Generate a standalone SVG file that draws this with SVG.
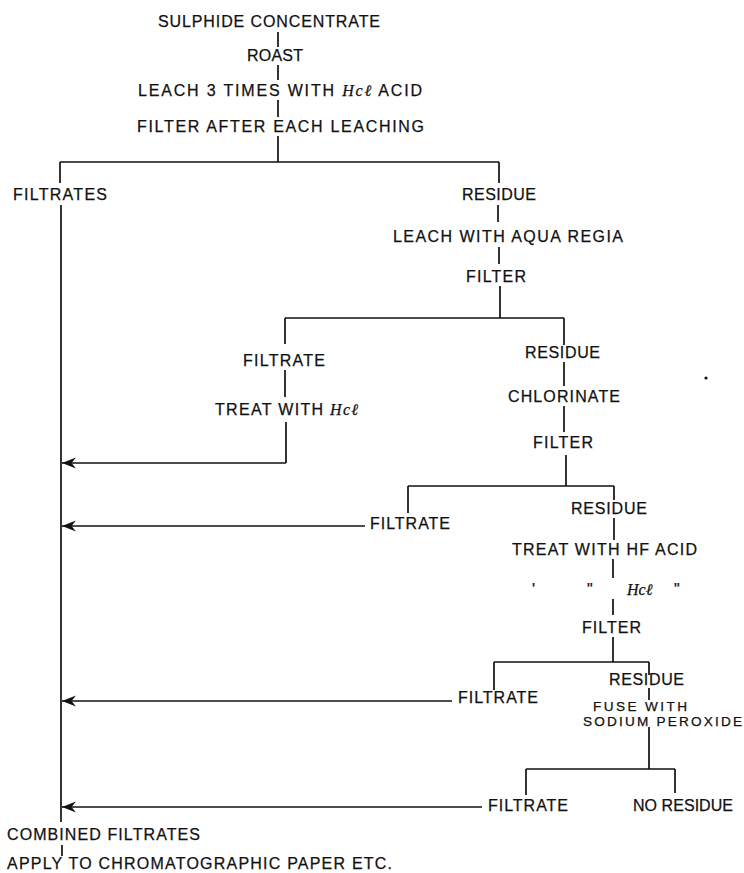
<svg xmlns="http://www.w3.org/2000/svg" width="744" height="873" viewBox="0 0 744 873">
<style>
text{font-family:"Liberation Sans","DejaVu Sans",sans-serif;font-size:16px;fill:#111;stroke:#111;stroke-width:0.25;}
.sm{font-size:13.6px;}
.hcl{font-family:"Liberation Serif","DejaVu Serif",serif;font-style:italic;}
.ln{stroke:#111;stroke-width:1.7;fill:none;}
</style>
<defs>
<marker id="arr" markerUnits="userSpaceOnUse" markerWidth="16" markerHeight="12" refX="15" refY="6" orient="auto" viewBox="0 0 16 12">
<path d="M15,6 L1,0.5 L5.5,6 L1,11.5 Z" fill="#111"/>
</marker>
</defs>
<rect width="744" height="873" fill="#fff"/>
<g id="connectors">
<path class="ln" d="M278,32 V47 M278,65 V80 M278,100 V117 M278,136 V162 M60,162 H499 M60,162 V183 M499,162 V183"/>
<path class="ln" d="M61,205 V822 M62,845 V856"/>
<path class="ln" d="M498,205 V222 M499,247 V264 M500,286 V318 M285,318 H564 M285,318 V344 M285,370 V397 M286,422 V463"/>
<path class="ln" d="M286,463 H62" marker-end="url(#arr)"/>
<path class="ln" d="M564,318 V345 M564,362 V386 M564,406 V432 M566,455 V486 M408,486 H614 M408,486 V513 M614,486 V500 M614,518 V540 M613,559 V578 M613,599 V615 M613,637 V662"/>
<path class="ln" d="M365,526 H62" marker-end="url(#arr)"/>
<path class="ln" d="M494,662 H649 M494,662 V690 M649,662 V675 M649,688 V700 M649,727 V769 M526,769 H675 M526,769 V795 M675,769 V793"/>
<path class="ln" d="M452,701 H62" marker-end="url(#arr)"/>
<path class="ln" d="M482,807 H62" marker-end="url(#arr)"/>
</g>
<g id="n-sulphide"><text x="158" y="27" textLength="222" lengthAdjust="spacing">SULPHIDE CONCENTRATE</text></g>
<g id="n-roast"><text x="247" y="61" textLength="56" lengthAdjust="spacing">ROAST</text></g>
<g id="n-leach3"><text x="138" y="96" textLength="284" lengthAdjust="spacing">LEACH 3 TIMES WITH <tspan class="hcl">Hcℓ</tspan> ACID</text></g>
<g id="n-filter-each"><text x="137" y="132" textLength="287" lengthAdjust="spacing">FILTER AFTER EACH LEACHING</text></g>
<g id="n-filtrates"><text x="13" y="200" textLength="94" lengthAdjust="spacing">FILTRATES</text></g>
<g id="n-residue1"><text x="462" y="200" textLength="74" lengthAdjust="spacing">RESIDUE</text></g>
<g id="n-aqua"><text x="393" y="242" textLength="230" lengthAdjust="spacing">LEACH WITH AQUA REGIA</text></g>
<g id="n-filter1"><text x="466" y="282" textLength="60" lengthAdjust="spacing">FILTER</text></g>
<g id="n-filtrate2"><text x="243" y="366" textLength="82" lengthAdjust="spacing">FILTRATE</text></g>
<g id="n-treat-hcl"><text x="215" y="415" textLength="143" lengthAdjust="spacing">TREAT WITH <tspan class="hcl">Hcℓ</tspan></text></g>
<g id="n-residue2"><text x="525" y="358" textLength="75" lengthAdjust="spacing">RESIDUE</text></g>
<g id="n-chlorinate"><text x="508" y="402" textLength="112" lengthAdjust="spacing">CHLORINATE</text></g>
<g id="n-filter2"><text x="533" y="448" textLength="60" lengthAdjust="spacing">FILTER</text></g>
<g id="n-filtrate3"><text x="370" y="529" textLength="80" lengthAdjust="spacing">FILTRATE</text></g>
<g id="n-residue3"><text x="571" y="514" textLength="76" lengthAdjust="spacing">RESIDUE</text></g>
<g id="n-hf"><text x="512" y="555" textLength="185" lengthAdjust="spacing">TREAT WITH HF ACID</text></g>
<g id="n-ditto"><text x="532" y="595">'</text><text x="587" y="595">"</text><text x="627" y="595" class="hcl">Hcℓ</text><text x="674" y="595">"</text></g>
<g id="n-filter3"><text x="582" y="633" textLength="59" lengthAdjust="spacing">FILTER</text></g>
<g id="n-filtrate4"><text x="458" y="703" textLength="80" lengthAdjust="spacing">FILTRATE</text></g>
<g id="n-residue4"><text x="609" y="685" textLength="75" lengthAdjust="spacing">RESIDUE</text></g>
<g id="n-fuse"><text class="sm" x="593" y="711" textLength="94" lengthAdjust="spacing">FUSE WITH</text><text class="sm" x="583" y="726" textLength="159" lengthAdjust="spacing">SODIUM PEROXIDE</text></g>
<g id="n-filtrate5"><text x="488" y="811" textLength="80" lengthAdjust="spacing">FILTRATE</text></g>
<g id="n-noresidue"><text x="633" y="811" textLength="100" lengthAdjust="spacing">NO RESIDUE</text></g>
<g id="n-combined"><text x="7" y="840" textLength="193" lengthAdjust="spacing">COMBINED FILTRATES</text></g>
<g id="n-apply"><text x="7" y="869" textLength="385" lengthAdjust="spacing">APPLY TO CHROMATOGRAPHIC PAPER ETC.</text></g>
<circle cx="706" cy="378" r="1.6" fill="#111"/>
</svg>
